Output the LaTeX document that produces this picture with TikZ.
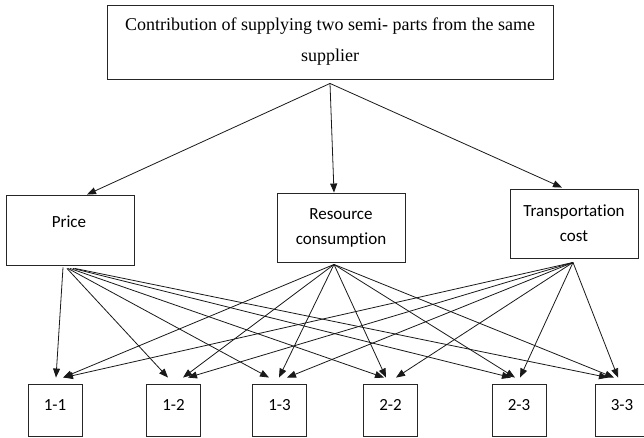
\documentclass[tikz,border=0pt]{standalone}
\usepackage{fontspec}
\setmainfont{Liberation Serif}
\newfontfamily\calfont[Ligatures=NoCommon]{Carlito}
\usetikzlibrary{arrows.meta}
\tikzset{
  box/.style={draw=black!85, line width=0.9pt, rectangle, inner sep=0pt},
  topfont/.style={font=\fontsize{18}{31}\selectfont, align=center},
  midfont/.style={font=\calfont\fontsize{17}{25}\selectfont, align=center},
  arr/.style={draw=black!90, line width=0.8pt, -{Triangle[length=9pt,width=7pt]}},
}
\begin{document}
\begin{tikzpicture}[x=1pt,y=-1pt]
\useasboundingbox (0,0) rectangle (644,437);
% top box
\node[box, minimum width=446pt, minimum height=74pt, topfont] (top) at (330,42)
  {Contribution of supplying two semi- parts from the same\\supplier};
% middle boxes
\node[box, minimum width=128pt, minimum height=70pt] (price) at (70,230) {};
\node[midfont, inner sep=0pt] (priceT) at (69,222) {Price};
\node[box, minimum width=128pt, minimum height=69pt, midfont] (res) at (341,227.5) {Resource\\consumption};
\node[box, minimum width=128pt, minimum height=69pt, midfont] (trans) at (574,223.5) {Transportation\\cost};
% bottom boxes
\foreach \n/\x/\t in {b11/55/1-1, b12/173.5/1-2, b13/279.5/1-3, b22/390.5/2-2, b23/519/2-3, b33/622/3-3}{
  \node[box, minimum width=54pt, minimum height=52pt] (\n) at (\x,410) {};
  \node[midfont, inner sep=0pt] (\n T) at (\x,405) {\t};
}
% top arrows
\draw[arr] ([yshift=-4pt]top.south) -- ([xshift=17pt]price.north);
\draw[arr] ([yshift=-4pt]top.south) -- ([xshift=-7pt]res.north);
\draw[arr] ([yshift=-4pt]top.south) -- ([xshift=-12pt,yshift=1pt]trans.north);
% from Price
\draw[arr] ([xshift=-7pt,yshift=-2pt]price.south) -- ([xshift=1pt,yshift=6pt]b11.north);
\draw[arr] ([xshift=-3pt,yshift=-3pt]price.south) -- ([xshift=-5.5pt,yshift=6pt]b12.north);
\draw[arr] ([xshift=-2pt,yshift=-3pt]price.south) -- ([xshift=-10.5pt,yshift=6pt]b13.north);
\draw[arr] ([xshift=0pt,yshift=-3pt]price.south) -- ([xshift=-6.5pt,yshift=6pt]b22.north);
\draw[arr] ([xshift=3pt,yshift=-3pt]price.south) -- ([xshift=-8pt,yshift=6pt]b23.north);
\draw[arr] ([xshift=5pt,yshift=-3pt]price.south) -- ([xshift=-14pt,yshift=6pt]b33.north);
% from Resource
\draw[arr] ([xshift=-7pt,yshift=-2pt]res.south) -- ([xshift=8pt,yshift=6pt]b11.north);
\draw[arr] ([xshift=-7pt,yshift=-2pt]res.south) -- ([xshift=9.5pt,yshift=6pt]b12.north);
\draw[arr] ([xshift=-7pt,yshift=-2pt]res.south) -- ([xshift=-0.5pt,yshift=6pt]b13.north);
\draw[arr] ([xshift=-7pt,yshift=-2pt]res.south) -- ([xshift=-4.5pt,yshift=6pt]b22.north);
\draw[arr] ([xshift=-7pt,yshift=-2pt]res.south) -- ([xshift=-4pt,yshift=6pt]b23.north);
\draw[arr] ([xshift=-7pt,yshift=-2pt]res.south) -- ([xshift=-8pt,yshift=6pt]b33.north);
% from Transportation
\draw[arr] ([xshift=-1pt,yshift=-4pt]trans.south) -- ([xshift=9pt,yshift=6pt]b11.north);
\draw[arr] ([xshift=-1pt,yshift=-4pt]trans.south) -- ([xshift=14.5pt,yshift=6pt]b12.north);
\draw[arr] ([xshift=-1pt,yshift=-4pt]trans.south) -- ([xshift=7.5pt,yshift=6pt]b13.north);
\draw[arr] ([xshift=-1pt,yshift=-4pt]trans.south) -- ([xshift=5.5pt,yshift=6pt]b22.north);
\draw[arr] ([xshift=-1pt,yshift=-4pt]trans.south) -- ([xshift=1pt,yshift=6pt]b23.north);
\draw[arr] ([xshift=-1pt,yshift=-4pt]trans.south) -- ([xshift=-4pt,yshift=6pt]b33.north);
\end{tikzpicture}
\end{document}
